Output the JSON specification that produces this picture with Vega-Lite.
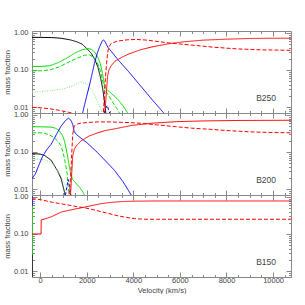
{
"$schema":"https://vega.github.io/schema/vega-lite/v6.json",
"padding":{"left":2,"top":28,"right":0,"bottom":0},
"spacing":0,
"bounds":"flush",
"config":{"view":{"stroke":"#888","strokeWidth":1},"font":"Liberation Sans",
"axis":{"tickColor":"#888","labelColor":"#444","titleColor":"#444","labelFont":"Liberation Sans","titleFont":"Liberation Sans","labelFontSize":7.5,"titleFontSize":7.5,"titleFontWeight":"normal","tickWidth":1,"domain":false,"grid":false,"labelOverlap":false,"labelFlush":false}},
"data":{"values":[
{"panel":"B250","s":"A","v":-350,"f":0.76},{"panel":"B250","s":"A","v":0,"f":0.76},{"panel":"B250","s":"A","v":500,"f":0.75},{"panel":"B250","s":"A","v":900,"f":0.72},{"panel":"B250","s":"A","v":1300,"f":0.65},{"panel":"B250","s":"A","v":1600,"f":0.57},{"panel":"B250","s":"A","v":1800,"f":0.5},{"panel":"B250","s":"A","v":2000,"f":0.38},{"panel":"B250","s":"A","v":2200,"f":0.28},{"panel":"B250","s":"A","v":2350,"f":0.19},{"panel":"B250","s":"A","v":2480,"f":0.12},{"panel":"B250","s":"A","v":2600,"f":0.06},{"panel":"B250","s":"A","v":2690,"f":0.03},{"panel":"B250","s":"A","v":2750,"f":0.016},{"panel":"B250","s":"A","v":2800,"f":0.009},{"panel":"B250","s":"A","v":2840,"f":0.005},
{"panel":"B250","s":"B","v":-350,"f":0.125},{"panel":"B250","s":"B","v":0,"f":0.125},{"panel":"B250","s":"B","v":400,"f":0.13},{"panel":"B250","s":"B","v":800,"f":0.16},{"panel":"B250","s":"B","v":1200,"f":0.22},{"panel":"B250","s":"B","v":1500,"f":0.29},{"panel":"B250","s":"B","v":1800,"f":0.35},{"panel":"B250","s":"B","v":2050,"f":0.38},{"panel":"B250","s":"B","v":2200,"f":0.36},{"panel":"B250","s":"B","v":2350,"f":0.3},{"panel":"B250","s":"B","v":2480,"f":0.22},{"panel":"B250","s":"B","v":2580,"f":0.15},{"panel":"B250","s":"B","v":2680,"f":0.08},{"panel":"B250","s":"B","v":2760,"f":0.04},{"panel":"B250","s":"B","v":2850,"f":0.03},{"panel":"B250","s":"B","v":3000,"f":0.025},{"panel":"B250","s":"B","v":3300,"f":0.017},{"panel":"B250","s":"B","v":3550,"f":0.011},{"panel":"B250","s":"B","v":3750,"f":0.007},{"panel":"B250","s":"B","v":3850,"f":0.005},
{"panel":"B250","s":"C","v":-350,"f":0.095},{"panel":"B250","s":"C","v":0,"f":0.095},{"panel":"B250","s":"C","v":400,"f":0.1},{"panel":"B250","s":"C","v":800,"f":0.12},{"panel":"B250","s":"C","v":1200,"f":0.16},{"panel":"B250","s":"C","v":1600,"f":0.21},{"panel":"B250","s":"C","v":1900,"f":0.25},{"panel":"B250","s":"C","v":2100,"f":0.26},{"panel":"B250","s":"C","v":2300,"f":0.22},{"panel":"B250","s":"C","v":2450,"f":0.16},{"panel":"B250","s":"C","v":2600,"f":0.09},{"panel":"B250","s":"C","v":2700,"f":0.045},{"panel":"B250","s":"C","v":2800,"f":0.028},{"panel":"B250","s":"C","v":2950,"f":0.02},{"panel":"B250","s":"C","v":3100,"f":0.014},{"panel":"B250","s":"C","v":3300,"f":0.009},{"panel":"B250","s":"C","v":3400,"f":0.007},{"panel":"B250","s":"C","v":3500,"f":0.005},
{"panel":"B250","s":"D","v":-350,"f":0.025},{"panel":"B250","s":"D","v":0,"f":0.026},{"panel":"B250","s":"D","v":500,"f":0.028},{"panel":"B250","s":"D","v":1000,"f":0.031},{"panel":"B250","s":"D","v":1400,"f":0.037},{"panel":"B250","s":"D","v":1650,"f":0.045},{"panel":"B250","s":"D","v":1800,"f":0.048},{"panel":"B250","s":"D","v":2000,"f":0.042},{"panel":"B250","s":"D","v":2200,"f":0.03},{"panel":"B250","s":"D","v":2350,"f":0.02},{"panel":"B250","s":"D","v":2480,"f":0.013},{"panel":"B250","s":"D","v":2600,"f":0.009},{"panel":"B250","s":"D","v":2700,"f":0.006},
{"panel":"B250","s":"E","v":1800,"f":0.006},{"panel":"B250","s":"E","v":1900,"f":0.011},{"panel":"B250","s":"E","v":2000,"f":0.02},{"panel":"B250","s":"E","v":2100,"f":0.035},{"panel":"B250","s":"E","v":2200,"f":0.065},{"panel":"B250","s":"E","v":2330,"f":0.15},{"panel":"B250","s":"E","v":2450,"f":0.28},{"panel":"B250","s":"E","v":2550,"f":0.42},{"panel":"B250","s":"E","v":2650,"f":0.58},{"panel":"B250","s":"E","v":2710,"f":0.65},{"panel":"B250","s":"E","v":2780,"f":0.6},{"panel":"B250","s":"E","v":2850,"f":0.48},{"panel":"B250","s":"E","v":2920,"f":0.4},{"panel":"B250","s":"E","v":3000,"f":0.35},{"panel":"B250","s":"E","v":3340,"f":0.19},{"panel":"B250","s":"E","v":3800,"f":0.09},{"panel":"B250","s":"E","v":4300,"f":0.038},{"panel":"B250","s":"E","v":4800,"f":0.016},{"panel":"B250","s":"E","v":5300,"f":0.007},{"panel":"B250","s":"E","v":5400,"f":0.006},
{"panel":"B250","s":"F","v":2700,"f":0.005},{"panel":"B250","s":"F","v":2800,"f":0.009},{"panel":"B250","s":"F","v":2880,"f":0.011},{"panel":"B250","s":"F","v":2950,"f":0.008},{"panel":"B250","s":"F","v":3050,"f":0.005},
{"panel":"B250","s":"G","v":2760,"f":0.005},{"panel":"B250","s":"G","v":2800,"f":0.01},{"panel":"B250","s":"G","v":2850,"f":0.03},{"panel":"B250","s":"G","v":2900,"f":0.07},{"panel":"B250","s":"G","v":2950,"f":0.1},{"panel":"B250","s":"G","v":3050,"f":0.13},{"panel":"B250","s":"G","v":3200,"f":0.17},{"panel":"B250","s":"G","v":3500,"f":0.22},{"panel":"B250","s":"G","v":3800,"f":0.27},{"panel":"B250","s":"G","v":4300,"f":0.35},{"panel":"B250","s":"G","v":4800,"f":0.42},{"panel":"B250","s":"G","v":5500,"f":0.51},{"panel":"B250","s":"G","v":6200,"f":0.58},{"panel":"B250","s":"G","v":7000,"f":0.64},{"panel":"B250","s":"G","v":8000,"f":0.68},{"panel":"B250","s":"G","v":9000,"f":0.71},{"panel":"B250","s":"G","v":10000,"f":0.72},{"panel":"B250","s":"G","v":10770,"f":0.72},
{"panel":"B250","s":"H","v":2700,"f":0.005},{"panel":"B250","s":"H","v":2760,"f":0.02},{"panel":"B250","s":"H","v":2800,"f":0.06},{"panel":"B250","s":"H","v":2850,"f":0.15},{"panel":"B250","s":"H","v":2900,"f":0.3},{"panel":"B250","s":"H","v":2950,"f":0.42},{"panel":"B250","s":"H","v":3050,"f":0.52},{"panel":"B250","s":"H","v":3300,"f":0.6},{"panel":"B250","s":"H","v":3700,"f":0.65},{"panel":"B250","s":"H","v":4100,"f":0.67},{"panel":"B250","s":"H","v":4600,"f":0.64},{"panel":"B250","s":"H","v":5500,"f":0.54},{"panel":"B250","s":"H","v":6500,"f":0.47},{"panel":"B250","s":"H","v":7500,"f":0.41},{"panel":"B250","s":"H","v":8500,"f":0.37},{"panel":"B250","s":"H","v":9500,"f":0.35},{"panel":"B250","s":"H","v":10770,"f":0.34},
{"panel":"B250","s":"H","p":2,"v":-350,"f":0.0098},{"panel":"B250","s":"H","p":2,"v":0,"f":0.0096},{"panel":"B250","s":"H","p":2,"v":400,"f":0.009},{"panel":"B250","s":"H","p":2,"v":800,"f":0.0082},{"panel":"B250","s":"H","p":2,"v":1200,"f":0.0073},{"panel":"B250","s":"H","p":2,"v":1500,"f":0.0065},{"panel":"B250","s":"H","p":2,"v":1700,"f":0.006},
{"panel":"B200","s":"A","v":-350,"f":0.09},{"panel":"B200","s":"A","v":0,"f":0.088},{"panel":"B200","s":"A","v":200,"f":0.08},{"panel":"B200","s":"A","v":470,"f":0.06},{"panel":"B200","s":"A","v":760,"f":0.03},{"panel":"B200","s":"A","v":900,"f":0.019},{"panel":"B200","s":"A","v":980,"f":0.012},{"panel":"B200","s":"A","v":1050,"f":0.008},{"panel":"B200","s":"A","v":1090,"f":0.005},
{"panel":"B200","s":"B","v":-350,"f":0.48},{"panel":"B200","s":"B","v":0,"f":0.48},{"panel":"B200","s":"B","v":470,"f":0.47},{"panel":"B200","s":"B","v":650,"f":0.44},{"panel":"B200","s":"B","v":800,"f":0.39},{"panel":"B200","s":"B","v":975,"f":0.27},{"panel":"B200","s":"B","v":1050,"f":0.19},{"panel":"B200","s":"B","v":1120,"f":0.12},{"panel":"B200","s":"B","v":1190,"f":0.07},{"panel":"B200","s":"B","v":1260,"f":0.038},{"panel":"B200","s":"B","v":1330,"f":0.024},{"panel":"B200","s":"B","v":1400,"f":0.018},{"panel":"B200","s":"B","v":1550,"f":0.014},{"panel":"B200","s":"B","v":1700,"f":0.011},{"panel":"B200","s":"B","v":1850,"f":0.008},{"panel":"B200","s":"B","v":1950,"f":0.006},
{"panel":"B200","s":"C","v":-350,"f":0.33},{"panel":"B200","s":"C","v":0,"f":0.33},{"panel":"B200","s":"C","v":185,"f":0.32},{"panel":"B200","s":"C","v":400,"f":0.29},{"panel":"B200","s":"C","v":615,"f":0.24},{"panel":"B200","s":"C","v":780,"f":0.19},{"panel":"B200","s":"C","v":900,"f":0.145},{"panel":"B200","s":"C","v":980,"f":0.1},{"panel":"B200","s":"C","v":1050,"f":0.064},{"panel":"B200","s":"C","v":1110,"f":0.04},{"panel":"B200","s":"C","v":1160,"f":0.026},{"panel":"B200","s":"C","v":1200,"f":0.0125},{"panel":"B200","s":"C","v":1240,"f":0.007},{"panel":"B200","s":"C","v":1260,"f":0.005},
{"panel":"B200","s":"D","v":-350,"f":0.064},{"panel":"B200","s":"D","v":0,"f":0.063},{"panel":"B200","s":"D","v":200,"f":0.062},{"panel":"B200","s":"D","v":470,"f":0.052},{"panel":"B200","s":"D","v":650,"f":0.04},{"panel":"B200","s":"D","v":760,"f":0.031},{"panel":"B200","s":"D","v":880,"f":0.023},{"panel":"B200","s":"D","v":975,"f":0.017},{"panel":"B200","s":"D","v":1100,"f":0.012},{"panel":"B200","s":"D","v":1190,"f":0.009},{"panel":"B200","s":"D","v":1260,"f":0.006},
{"panel":"B200","s":"E","v":-350,"f":0.019},{"panel":"B200","s":"E","v":-200,"f":0.026},{"panel":"B200","s":"E","v":-50,"f":0.045},{"panel":"B200","s":"E","v":100,"f":0.075},{"panel":"B200","s":"E","v":300,"f":0.12},{"panel":"B200","s":"E","v":470,"f":0.16},{"panel":"B200","s":"E","v":700,"f":0.3},{"panel":"B200","s":"E","v":900,"f":0.5},{"panel":"B200","s":"E","v":1080,"f":0.7},{"panel":"B200","s":"E","v":1216,"f":0.82},{"panel":"B200","s":"E","v":1320,"f":0.72},{"panel":"B200","s":"E","v":1400,"f":0.55},{"panel":"B200","s":"E","v":1460,"f":0.36},{"panel":"B200","s":"E","v":1550,"f":0.3},{"panel":"B200","s":"E","v":1740,"f":0.24},{"panel":"B200","s":"E","v":2000,"f":0.18},{"panel":"B200","s":"E","v":2460,"f":0.097},{"panel":"B200","s":"E","v":2800,"f":0.058},{"panel":"B200","s":"E","v":3190,"f":0.032},{"panel":"B200","s":"E","v":3550,"f":0.016},{"panel":"B200","s":"E","v":3910,"f":0.0069},{"panel":"B200","s":"E","v":4000,"f":0.006},
{"panel":"B200","s":"F","v":1050,"f":0.005},{"panel":"B200","s":"F","v":1130,"f":0.01},{"panel":"B200","s":"F","v":1200,"f":0.018},{"panel":"B200","s":"F","v":1260,"f":0.012},{"panel":"B200","s":"F","v":1320,"f":0.007},{"panel":"B200","s":"F","v":1380,"f":0.005},
{"panel":"B200","s":"G","v":1280,"f":0.005},{"panel":"B200","s":"G","v":1320,"f":0.01},{"panel":"B200","s":"G","v":1360,"f":0.03},{"panel":"B200","s":"G","v":1400,"f":0.079},{"panel":"B200","s":"G","v":1470,"f":0.12},{"panel":"B200","s":"G","v":1550,"f":0.146},{"panel":"B200","s":"G","v":1760,"f":0.2},{"panel":"B200","s":"G","v":2100,"f":0.27},{"panel":"B200","s":"G","v":2480,"f":0.33},{"panel":"B200","s":"G","v":2800,"f":0.38},{"panel":"B200","s":"G","v":3190,"f":0.42},{"panel":"B200","s":"G","v":3910,"f":0.52},{"panel":"B200","s":"G","v":4800,"f":0.6},{"panel":"B200","s":"G","v":5870,"f":0.66},{"panel":"B200","s":"G","v":7000,"f":0.69},{"panel":"B200","s":"G","v":8500,"f":0.71},{"panel":"B200","s":"G","v":10770,"f":0.72},
{"panel":"B200","s":"H","v":1180,"f":0.005},{"panel":"B200","s":"H","v":1260,"f":0.008},{"panel":"B200","s":"H","v":1320,"f":0.03},{"panel":"B200","s":"H","v":1360,"f":0.1},{"panel":"B200","s":"H","v":1400,"f":0.3},{"panel":"B200","s":"H","v":1460,"f":0.5},{"panel":"B200","s":"H","v":1600,"f":0.57},{"panel":"B200","s":"H","v":1740,"f":0.6},{"panel":"B200","s":"H","v":2100,"f":0.63},{"panel":"B200","s":"H","v":2460,"f":0.65},{"panel":"B200","s":"H","v":3000,"f":0.65},{"panel":"B200","s":"H","v":3900,"f":0.62},{"panel":"B200","s":"H","v":4440,"f":0.59},{"panel":"B200","s":"H","v":5000,"f":0.54},{"panel":"B200","s":"H","v":5870,"f":0.48},{"panel":"B200","s":"H","v":6500,"f":0.44},{"panel":"B200","s":"H","v":7300,"f":0.41},{"panel":"B200","s":"H","v":8000,"f":0.38},{"panel":"B200","s":"H","v":9000,"f":0.35},{"panel":"B200","s":"H","v":10000,"f":0.335},{"panel":"B200","s":"H","v":10770,"f":0.33},
{"panel":"B150","s":"A","v":-340,"f":0.028},{"panel":"B150","s":"A","v":-340,"f":0.005},
{"panel":"B150","s":"B","v":-340,"f":0.57},{"panel":"B150","s":"B","v":-340,"f":0.028},
{"panel":"B150","s":"E","v":-340,"f":1.05},{"panel":"B150","s":"E","v":-340,"f":0.57},
{"panel":"B150","s":"G","v":-350,"f":0.1},{"panel":"B150","s":"G","v":40,"f":0.1},{"panel":"B150","s":"G","v":45,"f":0.24},{"panel":"B150","s":"G","v":200,"f":0.255},{"panel":"B150","s":"G","v":470,"f":0.29},{"panel":"B150","s":"G","v":700,"f":0.34},{"panel":"B150","s":"G","v":900,"f":0.39},{"panel":"B150","s":"G","v":1190,"f":0.43},{"panel":"B150","s":"G","v":1620,"f":0.49},{"panel":"B150","s":"G","v":1900,"f":0.53},{"panel":"B150","s":"G","v":2300,"f":0.6},{"panel":"B150","s":"G","v":2620,"f":0.66},{"panel":"B150","s":"G","v":3000,"f":0.71},{"panel":"B150","s":"G","v":3500,"f":0.75},{"panel":"B150","s":"G","v":4050,"f":0.77},{"panel":"B150","s":"G","v":5000,"f":0.78},{"panel":"B150","s":"G","v":7000,"f":0.78},{"panel":"B150","s":"G","v":10770,"f":0.78},
{"panel":"B150","s":"H","v":-350,"f":0.9},{"panel":"B150","s":"H","v":0,"f":0.85},{"panel":"B150","s":"H","v":470,"f":0.73},{"panel":"B150","s":"H","v":800,"f":0.67},{"panel":"B150","s":"H","v":1190,"f":0.61},{"panel":"B150","s":"H","v":1500,"f":0.56},{"panel":"B150","s":"H","v":1900,"f":0.51},{"panel":"B150","s":"H","v":2300,"f":0.45},{"panel":"B150","s":"H","v":2620,"f":0.4},{"panel":"B150","s":"H","v":3000,"f":0.35},{"panel":"B150","s":"H","v":3340,"f":0.31},{"panel":"B150","s":"H","v":3700,"f":0.28},{"panel":"B150","s":"H","v":4050,"f":0.26},{"panel":"B150","s":"H","v":4500,"f":0.25},{"panel":"B150","s":"H","v":5000,"f":0.25},{"panel":"B150","s":"H","v":10770,"f":0.25}
]},
"vconcat":[
{"width":259,"height":82,
"layer":[
{"transform":[{"filter":"datum.panel === 'B250'"}],
"mark":{"type":"line","clip":true,"strokeWidth":1},
"encoding":{
"x":{"field":"v","type":"quantitative","scale":{"domain":[-350,10770],"nice":false,"zero":false},
"axis":{"orient":"bottom","values":[0,500,1000,1500,2000,2500,3000,3500,4000,4500,5000,5500,6000,6500,7000,7500,8000,8500,9000,9500,10000,10500],"labels":false,"title":null,"tickSize":{"condition":{"test":"datum.value % 2000 === 0","value":-5},"value":-2.5}}},
"y":{"field":"f","type":"quantitative","scale":{"type":"log","domain":[0.0069,1.13],"nice":false},
"axis":{"orient":"left","values":[0.007,0.008,0.009,0.01,0.02,0.03,0.04,0.05,0.06,0.07,0.08,0.09,0.1,0.2,0.3,0.4,0.5,0.6,0.7,0.8,0.9,1],"labelExpr":"(datum.value==0.01||datum.value==0.1||datum.value==1) ? format(datum.value,'.2f') : ''","tickSize":{"condition":{"test":"datum.value==0.01||datum.value==0.1||datum.value==1","value":-5},"value":-2.5},"labelPadding":9,"title":"mass fraction","titlePadding":2}},
"color":{"field":"s","type":"nominal","legend":null,"scale":{"domain":["A","B","C","D","E","F","G","H"],"range":["#000000","#00dd00","#00dd00","#77ee77","#0000ff","#0000ff","#ff0000","#ff0000"]}},
"strokeDash":{"field":"s","type":"nominal","legend":null,"scale":{"domain":["A","B","C","D","E","F","G","H"],"range":[[1,0],[1,0],[4,2],[1,1.5],[1,0],[3,2],[1,0],[4,2]]}},
"detail":{"field":"p"}}},
{"data":{"values":[{"label":"B250"}]},
"mark":{"type":"text","fontSize":8.5,"color":"#444","align":"center","baseline":"middle","font":"Liberation Sans"},
"encoding":{
"x":{"datum":9700,"type":"quantitative","scale":{"domain":[-350,10770],"nice":false,"zero":false},
"axis":{"orient":"top","values":[0,500,1000,1500,2000,2500,3000,3500,4000,4500,5000,5500,6000,6500,7000,7500,8000,8500,9000,9500,10000,10500],"labels":false,"title":null,"tickSize":{"condition":{"test":"datum.value % 2000 === 0","value":-5},"value":-2.5}}},
"y":{"datum":0.017,"type":"quantitative","scale":{"type":"log","domain":[0.0069,1.13],"nice":false},
"axis":{"orient":"right","values":[0.007,0.008,0.009,0.01,0.02,0.03,0.04,0.05,0.06,0.07,0.08,0.09,0.1,0.2,0.3,0.4,0.5,0.6,0.7,0.8,0.9,1],"labels":false,"title":null,"tickSize":{"condition":{"test":"datum.value==0.01||datum.value==0.1||datum.value==1","value":-5},"value":-2.5}}},
"text":{"field":"label"}}}
],
"resolve":{"axis":{"x":"independent","y":"independent"}}},
{"width":259,"height":82,
"layer":[
{"transform":[{"filter":"datum.panel === 'B200'"}],
"mark":{"type":"line","clip":true,"strokeWidth":1},
"encoding":{
"x":{"field":"v","type":"quantitative","scale":{"domain":[-350,10770],"nice":false,"zero":false},
"axis":{"orient":"bottom","values":[0,500,1000,1500,2000,2500,3000,3500,4000,4500,5000,5500,6000,6500,7000,7500,8000,8500,9000,9500,10000,10500],"labels":false,"title":null,"tickSize":{"condition":{"test":"datum.value % 2000 === 0","value":-5},"value":-2.5}}},
"y":{"field":"f","type":"quantitative","scale":{"type":"log","domain":[0.0069,1.13],"nice":false},
"axis":{"orient":"left","values":[0.007,0.008,0.009,0.01,0.02,0.03,0.04,0.05,0.06,0.07,0.08,0.09,0.1,0.2,0.3,0.4,0.5,0.6,0.7,0.8,0.9,1],"labelExpr":"(datum.value==0.01||datum.value==0.1||datum.value==1) ? format(datum.value,'.2f') : ''","tickSize":{"condition":{"test":"datum.value==0.01||datum.value==0.1||datum.value==1","value":-5},"value":-2.5},"labelPadding":9,"title":"mass fraction","titlePadding":2}},
"color":{"field":"s","type":"nominal","legend":null,"scale":{"domain":["A","B","C","D","E","F","G","H"],"range":["#000000","#00dd00","#00dd00","#77ee77","#0000ff","#0000ff","#ff0000","#ff0000"]}},
"strokeDash":{"field":"s","type":"nominal","legend":null,"scale":{"domain":["A","B","C","D","E","F","G","H"],"range":[[1,0],[1,0],[4,2],[1,1.5],[1,0],[3,2],[1,0],[4,2]]}},
"detail":{"field":"p"}}},
{"data":{"values":[{"label":"B200"}]},
"mark":{"type":"text","fontSize":8.5,"color":"#444","align":"center","baseline":"middle","font":"Liberation Sans"},
"encoding":{
"x":{"datum":9700,"type":"quantitative","scale":{"domain":[-350,10770],"nice":false,"zero":false},
"axis":{"orient":"top","values":[0,500,1000,1500,2000,2500,3000,3500,4000,4500,5000,5500,6000,6500,7000,7500,8000,8500,9000,9500,10000,10500],"labels":false,"title":null,"tickSize":{"condition":{"test":"datum.value % 2000 === 0","value":-5},"value":-2.5}}},
"y":{"datum":0.017,"type":"quantitative","scale":{"type":"log","domain":[0.0069,1.13],"nice":false},
"axis":{"orient":"right","values":[0.007,0.008,0.009,0.01,0.02,0.03,0.04,0.05,0.06,0.07,0.08,0.09,0.1,0.2,0.3,0.4,0.5,0.6,0.7,0.8,0.9,1],"labels":false,"title":null,"tickSize":{"condition":{"test":"datum.value==0.01||datum.value==0.1||datum.value==1","value":-5},"value":-2.5}}},
"text":{"field":"label"}}}
],
"resolve":{"axis":{"x":"independent","y":"independent"}}},
{"width":259,"height":82,
"layer":[
{"transform":[{"filter":"datum.panel === 'B150'"}],
"mark":{"type":"line","clip":true,"strokeWidth":1},
"encoding":{
"x":{"field":"v","type":"quantitative","scale":{"domain":[-350,10770],"nice":false,"zero":false},
"axis":{"orient":"bottom","values":[0,500,1000,1500,2000,2500,3000,3500,4000,4500,5000,5500,6000,6500,7000,7500,8000,8500,9000,9500,10000,10500],"labelExpr":"datum.value % 2000 === 0 ? format(datum.value,'d') : ''","labelPadding":4,"title":"Velocity (km/s)","titlePadding":0,"tickSize":{"condition":{"test":"datum.value % 2000 === 0","value":-5},"value":-2.5}}},
"y":{"field":"f","type":"quantitative","scale":{"type":"log","domain":[0.0069,1.13],"nice":false},
"axis":{"orient":"left","values":[0.007,0.008,0.009,0.01,0.02,0.03,0.04,0.05,0.06,0.07,0.08,0.09,0.1,0.2,0.3,0.4,0.5,0.6,0.7,0.8,0.9,1],"labelExpr":"(datum.value==0.01||datum.value==0.1||datum.value==1) ? format(datum.value,'.2f') : ''","tickSize":{"condition":{"test":"datum.value==0.01||datum.value==0.1||datum.value==1","value":-5},"value":-2.5},"labelPadding":9,"title":"mass fraction","titlePadding":2}},
"color":{"field":"s","type":"nominal","legend":null,"scale":{"domain":["A","B","C","D","E","F","G","H"],"range":["#000000","#00dd00","#00dd00","#77ee77","#0000ff","#0000ff","#ff0000","#ff0000"]}},
"strokeDash":{"field":"s","type":"nominal","legend":null,"scale":{"domain":["A","B","C","D","E","F","G","H"],"range":[[1,0],[1,0],[4,2],[1,1.5],[1,0],[3,2],[1,0],[4,2]]}},
"detail":{"field":"p"}}},
{"data":{"values":[{"label":"B150"}]},
"mark":{"type":"text","fontSize":8.5,"color":"#444","align":"center","baseline":"middle","font":"Liberation Sans"},
"encoding":{
"x":{"datum":9700,"type":"quantitative","scale":{"domain":[-350,10770],"nice":false,"zero":false},
"axis":{"orient":"top","values":[0,500,1000,1500,2000,2500,3000,3500,4000,4500,5000,5500,6000,6500,7000,7500,8000,8500,9000,9500,10000,10500],"labels":false,"title":null,"tickSize":{"condition":{"test":"datum.value % 2000 === 0","value":-5},"value":-2.5}}},
"y":{"datum":0.017,"type":"quantitative","scale":{"type":"log","domain":[0.0069,1.13],"nice":false},
"axis":{"orient":"right","values":[0.007,0.008,0.009,0.01,0.02,0.03,0.04,0.05,0.06,0.07,0.08,0.09,0.1,0.2,0.3,0.4,0.5,0.6,0.7,0.8,0.9,1],"labels":false,"title":null,"tickSize":{"condition":{"test":"datum.value==0.01||datum.value==0.1||datum.value==1","value":-5},"value":-2.5}}},
"text":{"field":"label"}}}
],
"resolve":{"axis":{"x":"independent","y":"independent"}}}
]
}
